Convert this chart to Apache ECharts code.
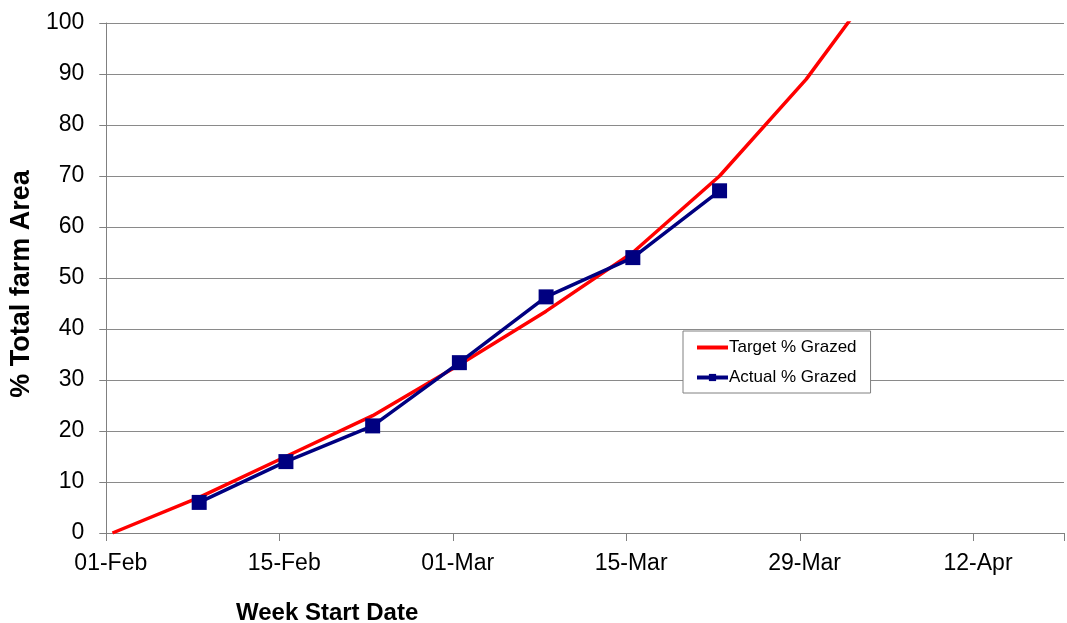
<!DOCTYPE html>
<html>
<head>
<meta charset="utf-8">
<script src="https://cdn.jsdelivr.net/npm/echarts@6/dist/echarts.min.js"></script>
<style>
html,body{margin:0;padding:0;background:#fff;}
#chart{width:1067px;height:623px;}
</style>
</head>
<body>
<div id="chart"></div>
<script>
// ---- data ----
const targetDates = ['01-Feb','08-Feb','15-Feb','22-Feb','01-Mar','08-Mar','15-Mar','22-Mar','29-Mar','05-Apr'];
const targetValues = [0, 7, 15, 23, 33, 43.5, 55, 70, 89, 112];
const actualDates = ['08-Feb','15-Feb','22-Feb','01-Mar','08-Mar','15-Mar','22-Mar'];
const actualValues = [6, 14, 21, 33.4, 46.3, 54, 67.1];
const xTickLabels = ['01-Feb','15-Feb','01-Mar','15-Mar','29-Mar','12-Apr'];
const yTicks = [0,10,20,30,40,50,60,70,80,90,100];

// day offset from 01-Feb (non-leap year); Excel date axis centres each point inside its day (+0.5)
const monthStart = {Feb: 0, Mar: 28, Apr: 59};
function dayX(s) {
  const [d, m] = s.split('-');
  return monthStart[m] + parseInt(d, 10) - 1 + 0.5;
}
const targetData = targetDates.map((d, i) => [dayX(d), targetValues[i]]);
const actualData = actualDates.map((d, i) => [dayX(d), actualValues[i]]);

const chart = echarts.init(document.getElementById('chart'));
const font = 'Liberation Sans, Arial, sans-serif';
chart.setOption({
  animation: false,
  backgroundColor: '#fff',
  textStyle: {fontFamily: font},
  grid: {left: 103, right: 0, top: 23, bottom: 90, containLabel: false},
  title: {
    text: 'Week Start Date', left: 231, top: 596,
    textStyle: {fontFamily: font, fontWeight: 'bold', fontSize: 24, color: '#000'}
  },
  legend: {
    left: 683, top: 331, orient: 'vertical',
    backgroundColor: '#fff', borderColor: '#808080', borderWidth: 1,
    padding: [8, 14, 7, 12], itemGap: 13, itemWidth: 31, itemHeight: 9,
    lineStyle: {width: 4},
    textStyle: {fontFamily: font, fontSize: 17, color: '#000', padding: [0,0,0,-4]},
    data: [
      {name: 'Target % Grazed', itemStyle: {opacity: 0}},
      {name: 'Actual % Grazed'}
    ]
  },
  xAxis: {
    type: 'value', min: 0, max: 77.3, interval: 14,
    axisLine: {show: true, lineStyle: {color: '#808080', width: 1}},
    axisTick: {show: true, length: 8, lineStyle: {color: '#808080'}},
    splitLine: {show: false},
    axisLabel: {
      margin: 19, fontSize: 23, color: '#000', fontFamily: font, padding: [0, 0, 0, 9],
      formatter: v => (v % 14 === 0 ? (xTickLabels[v / 14] || '') : '')
    }
  },
  yAxis: {
    type: 'value', min: yTicks[0], max: yTicks[yTicks.length - 1], interval: 10,
    name: '% Total farm Area', nameLocation: 'middle', nameGap: 66,
    nameTextStyle: {fontFamily: font, fontWeight: 'bold', fontSize: 27, color: '#000', padding: [0, 12, 0, 0]},
    axisLine: {show: true, lineStyle: {color: '#808080', width: 1}},
    axisTick: {show: true, length: 7, lineStyle: {color: '#808080'}},
    splitLine: {show: true, lineStyle: {color: '#8a8a8a', width: 1.2}},
    axisLabel: {margin: 22, fontSize: 23, color: '#000', fontFamily: font}
  },
  series: [
    {
      name: 'Target % Grazed', type: 'line', data: targetData,
      symbol: 'none', clip: true,
      lineStyle: {color: '#ff0000', width: 3.5},
      itemStyle: {color: '#ff0000'}
    },
    {
      name: 'Actual % Grazed', type: 'line', data: actualData,
      symbol: 'rect', symbolSize: 15, clip: true,
      lineStyle: {color: '#000080', width: 3.5},
      itemStyle: {color: '#000080'}
    }
  ]
});
</script>
</body>
</html>
